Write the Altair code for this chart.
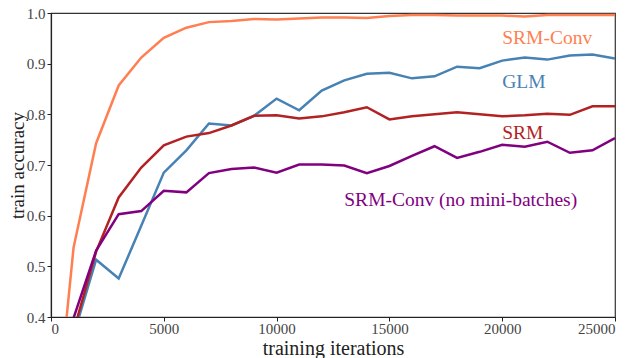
import altair as alt
import pandas as pd

iterations = [0, 1000, 2000, 3000, 4000, 5000, 6000, 7000, 8000, 9000, 10000,
              11000, 12000, 13000, 14000, 15000, 16000, 17000, 18000, 19000, 20000,
              21000, 22000, 23000, 24000, 25000]

srm_conv = [0.09, 0.537, 0.743, 0.857, 0.912, 0.951, 0.971, 0.982, 0.984, 0.988, 0.987,
            0.989, 0.991, 0.991, 0.990, 0.994, 0.996, 0.996, 0.995, 0.995, 0.995,
            0.993, 0.996, 0.996, 0.996, 0.996]
glm = [0.10, 0.364, 0.513, 0.476, 0.580, 0.685, 0.729, 0.782, 0.778, 0.797, 0.831,
       0.808, 0.847, 0.867, 0.880, 0.882, 0.871, 0.875, 0.894, 0.891, 0.906,
       0.912, 0.908, 0.916, 0.918, 0.910]
srm = [0.10, 0.372, 0.529, 0.636, 0.695, 0.739, 0.756, 0.763, 0.778, 0.797, 0.798,
       0.792, 0.796, 0.804, 0.814, 0.790, 0.796, 0.800, 0.804, 0.800, 0.796,
       0.798, 0.801, 0.799, 0.816, 0.816]
srm_conv_nomb = [0.10, 0.398, 0.531, 0.603, 0.609, 0.649, 0.646, 0.684, 0.692, 0.695, 0.685,
                 0.701, 0.701, 0.699, 0.684, 0.698, 0.718, 0.737, 0.714, 0.726, 0.740,
                 0.736, 0.746, 0.724, 0.729, 0.753]

series_names = ["SRM-Conv", "GLM", "SRM", "SRM-Conv (no mini-batches)"]
series_colors = ["#ff7f50", "#4682b4", "#b22222", "#800080"]

label_text = ["SRM-Conv", "GLM", "SRM", "SRM-Conv (no mini-batches)"]
label_x = [20000, 20000, 20000, 13000]
label_y = [0.951, 0.863, 0.763, 0.631]

rows = []
for name, vals in zip(series_names, [srm_conv, glm, srm, srm_conv_nomb]):
    for it, v in zip(iterations, vals):
        rows.append({"iter": it, "acc": v, "series": name})
df = pd.DataFrame(rows)

labels = pd.DataFrame({"text": label_text, "x": label_x, "y": label_y, "series": series_names})

FONT = "Liberation Serif"
color_scale = alt.Scale(domain=series_names, range=series_colors)

x_enc = alt.X("iter:Q", scale=alt.Scale(domain=[0, 25000], nice=False),
              axis=alt.Axis(title="training iterations", values=[0, 5000, 10000, 15000, 20000, 25000],
                            format="d", grid=False, labelPadding=0,
                            titleY=37, titleBaseline="alphabetic", titleFontSize=20))
y_enc = alt.Y("acc:Q", scale=alt.Scale(domain=[0.4, 1.0], nice=False),
              axis=alt.Axis(title="train accuracy", values=[0.4, 0.5, 0.6, 0.7, 0.8, 0.9, 1.0],
                            format=".1f", grid=False, labelPadding=2,
                            titleX=-34, titleBaseline="middle"))

lines = alt.Chart(df).mark_line(strokeWidth=2.5, clip=True).encode(
    x=x_enc, y=y_enc,
    color=alt.Color("series:N", scale=color_scale, legend=None),
    detail="series:N",
)

texts = alt.Chart(labels).mark_text(align="left", baseline="middle", font=FONT, fontSize=19.5).encode(
    x=alt.X("x:Q"), y=alt.Y("y:Q"),
    text="text:N",
    color=alt.Color("series:N", scale=color_scale, legend=None),
)

chart = alt.layer(lines, texts).properties(
    width=564, height=304,
    autosize=alt.AutoSizeParams(type="none"),
    padding={"left": 43, "top": 5, "right": 9, "bottom": 41},
).configure_view(
    stroke="#333333", strokeWidth=1.2,
).configure_axis(
    labelFont=FONT, titleFont=FONT, labelFontSize=15, titleFontSize=19,
    labelColor="#444444", titleColor="#222222", titleFontWeight="normal",
    domainColor="#222222", tickColor="#222222", tickSize=4, domainWidth=1.2,
)

chart.save("out.html", embed_options={"renderer": "svg", "actions": False})
